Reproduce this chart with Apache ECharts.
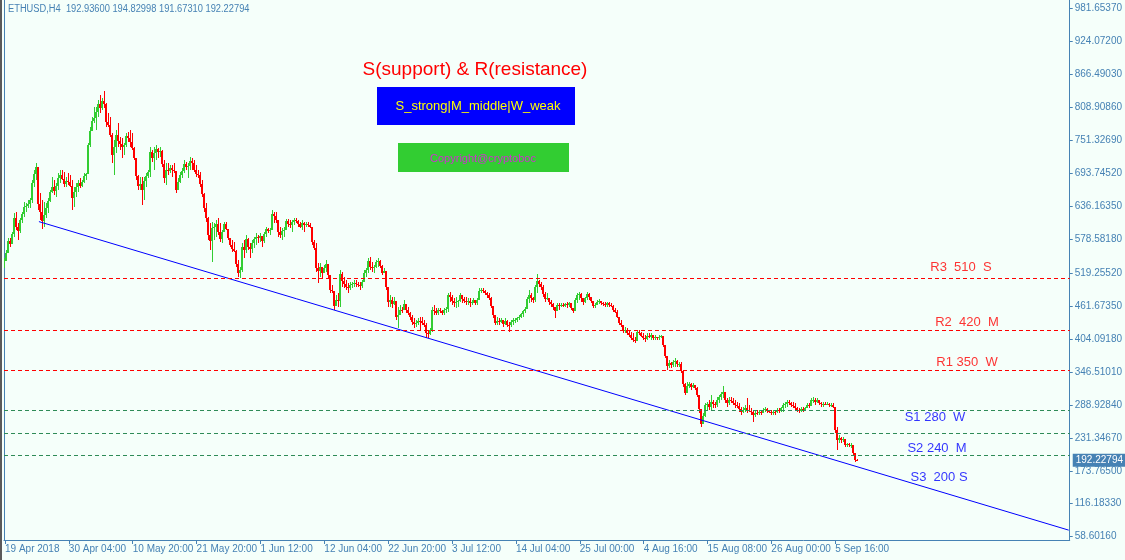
<!DOCTYPE html>
<html>
<head>
<meta charset="utf-8">
<title>ETHUSD H4</title>
<script src="https://cdn.jsdelivr.net/npm/echarts@6/dist/echarts.min.js"></script>
<style>
  html, body { margin: 0; padding: 0; background: #f5fffa; }
  #chart { width: 1125px; height: 560px; }
</style>
</head>
<body>
<div id="chart"></div>
<script>
// ETHUSD, H4 price history (one candle per category slot), support/resistance levels and trend line.
const FONT = '"Liberation Sans", Arial, sans-serif';

const tickLabels = ['19 Apr 2018', '30 Apr 04:00', '10 May 20:00', '21 May 20:00', '1 Jun 12:00',
  '12 Jun 04:00', '22 Jun 20:00', '3 Jul 12:00', '14 Jul 04:00', '25 Jul 00:00',
  '4 Aug 16:00', '15 Aug 08:00', '26 Aug 00:00', '5 Sep 16:00'];
const TICK_STEP = 32;
const SLOTS = 534;

const priceTicks = [981.6537, 924.072, 866.4903, 808.9086, 751.3269, 693.7452, 636.1635,
  578.5818, 519.2552, 461.6735, 404.0918, 346.5101, 288.9284, 231.3467, 173.765,
  116.1833, 58.6016];

const firstOpen = 530;
const closes = [
  540, 555, 575, 570, 588, 615, 600, 592, 612, 622,
  635, 637, 640, 646, 676, 692, 705, 640, 625, 610,
  620, 632, 645, 660, 670, 662, 672, 685, 690, 684,
  675, 680, 678, 672, 650, 660, 670, 676, 672, 678,
  688, 692, 742, 768, 785, 790, 800, 815, 808, 820,
  815, 783, 778, 760, 725, 740, 760, 750, 745, 740,
  742, 758, 755, 748, 738, 720, 688, 672, 675, 665,
  680, 688, 695, 730, 720, 728, 735, 730, 733, 710,
  685, 700, 697, 702, 700, 697, 665, 678, 690, 698,
  710, 704, 706, 715, 712, 700, 692, 690, 675, 658,
  632, 615, 585, 575, 598, 600, 605, 590, 578, 590,
  604, 596, 580, 568, 562, 558, 535, 520, 525, 565,
  560, 578, 565, 562, 572, 578, 582, 580, 584, 575,
  588, 596, 592, 594, 622, 618, 612, 590, 585, 592,
  595, 610, 605, 603, 608, 612, 610, 604, 600, 606,
  603, 605, 603, 600, 573, 563, 528, 522, 530, 520,
  528, 535, 515, 490, 488, 462, 472, 470, 518, 505,
  500, 495, 493, 498, 500, 502, 500, 498, 496, 503,
  520, 524, 540, 530, 528, 530, 538, 540, 532, 520,
  522, 495, 468, 472, 465, 470, 442, 445, 455, 454,
  465, 455, 450, 442, 433, 430, 432, 436, 435, 432,
  428, 415, 412, 420, 455, 452, 450, 454, 452, 449,
  455, 457, 480, 478, 470, 466, 468, 470, 480, 474,
  471, 468, 470, 466, 469, 472, 467, 472, 488, 490,
  488, 485, 480, 476, 462, 445, 432, 435, 433, 437,
  430, 436, 429, 428, 433, 437, 438, 440, 443, 447,
  452, 457, 474, 480, 475, 472, 494, 505, 500, 495,
  482, 474, 476, 468, 465, 460, 452, 463, 462, 464,
  462, 465, 463, 466, 458, 452, 472, 480, 482, 476,
  468, 475, 483, 478, 470, 462, 464, 469, 470, 466,
  465, 463, 466, 464, 462, 454, 451, 443, 432, 428,
  418, 420, 414, 411, 406, 402, 400, 416, 414, 410,
  406, 404, 410, 408, 411, 406, 408, 405, 408, 409,
  394, 375, 356, 362, 358, 364, 366, 360, 361, 348,
  325, 310, 322, 325, 320, 323, 318, 306, 282, 256,
  270, 288, 290, 285, 294, 290, 288, 298, 302, 308,
  312, 298, 292, 298, 296, 293, 288, 287, 281, 276,
  280, 283, 280, 278, 276, 272, 275, 274, 277, 275,
  280, 282, 278, 277, 275, 277, 276, 280, 279, 283,
  288, 290, 294, 292, 289, 287, 284, 280, 278, 282,
  280, 283, 289, 287, 297, 298, 294, 297, 292, 290,
  291, 290, 291, 288, 289, 286, 245, 228, 231, 228,
  230, 218, 220, 218, 219, 205, 192.936, 192.22794
];
const highs = [
  545, 559, 580, 580, 591, 624, 626, 607, 615, 626,
  643, 642, 647, 650, 682, 699, 711, 704, 659, 647,
  643, 642, 650, 664, 687, 682, 677, 694, 699, 699,
  696, 687, 694, 690, 682, 670, 677, 682, 685, 682,
  694, 694, 746, 774, 792, 809, 809, 821, 830, 825,
  837, 816, 799, 792, 764, 752, 769, 781, 757, 755,
  746, 764, 766, 769, 764, 739, 704, 690, 687, 687,
  687, 694, 699, 739, 734, 739, 743, 738, 739, 734,
  717, 711, 711, 708, 708, 711, 687, 685, 696, 703,
  717, 713, 711, 722, 720, 717, 708, 699, 696, 682,
  659, 642, 617, 607, 608, 607, 612, 615, 607, 594,
  608, 608, 594, 580, 577, 573, 559, 542, 530, 572,
  577, 586, 580, 572, 577, 582, 589, 586, 589, 582,
  591, 600, 598, 598, 629, 626, 626, 600, 600, 598,
  600, 614, 614, 612, 612, 615, 615, 612, 608, 612,
  608, 608, 608, 607, 600, 577, 572, 537, 537, 530,
  533, 542, 525, 502, 498, 481, 481, 484, 525, 521,
  512, 507, 502, 504, 504, 507, 507, 504, 504, 507,
  525, 528, 545, 547, 538, 533, 542, 545, 542, 533,
  528, 519, 484, 481, 477, 477, 455, 460, 463, 460,
  472, 463, 460, 451, 446, 441, 437, 441, 442, 442,
  437, 432, 420, 423, 460, 463, 458, 458, 458, 455,
  458, 460, 484, 486, 481, 476, 477, 472, 484, 481,
  477, 477, 476, 476, 472, 476, 472, 476, 493, 493,
  493, 490, 486, 484, 477, 458, 446, 442, 441, 441,
  437, 441, 437, 434, 437, 441, 441, 442, 446, 449,
  455, 460, 477, 490, 484, 477, 498, 518, 507, 504,
  498, 486, 484, 476, 472, 467, 460, 467, 467, 467,
  467, 467, 469, 469, 467, 458, 476, 484, 486, 484,
  476, 477, 486, 484, 477, 469, 467, 472, 474, 469,
  469, 469, 469, 469, 467, 463, 458, 455, 441, 437,
  428, 425, 423, 420, 416, 414, 407, 420, 420, 416,
  414, 411, 414, 414, 414, 411, 411, 407, 411, 411,
  407, 390, 373, 367, 364, 367, 371, 367, 364, 364,
  345, 327, 329, 329, 327, 327, 324, 320, 303, 275,
  275, 292, 294, 297, 306, 297, 294, 303, 306, 311,
  322, 310, 301, 303, 303, 301, 297, 294, 292, 285,
  285, 289, 301, 289, 283, 280, 280, 280, 280, 280,
  283, 285, 283, 280, 280, 280, 280, 283, 283, 285,
  292, 294, 297, 297, 294, 294, 292, 285, 283, 285,
  285, 285, 292, 292, 301, 303, 301, 301, 297, 294,
  294, 294, 294, 292, 292, 292, 285, 250, 236, 233,
  233, 224, 222, 222, 222, 214, 205, 194.82998
];
const lows = [
  528, 542, 554, 565, 572, 582, 594, 577, 589, 607,
  617, 626, 633, 633, 642, 670, 682, 629, 612, 596,
  600, 615, 624, 643, 659, 656, 652, 664, 677, 682,
  670, 670, 673, 670, 629, 635, 652, 661, 668, 670,
  677, 682, 704, 739, 769, 781, 769, 792, 799, 804,
  807, 774, 774, 757, 711, 690, 729, 739, 734, 720,
  725, 739, 748, 739, 734, 717, 682, 664, 664, 638,
  647, 670, 685, 687, 713, 699, 717, 720, 722, 704,
  677, 673, 690, 694, 687, 694, 659, 664, 677, 685,
  694, 699, 685, 699, 699, 696, 687, 685, 670, 652,
  626, 608, 577, 559, 538, 577, 582, 586, 573, 572,
  591, 594, 577, 565, 556, 556, 530, 512, 511, 521,
  545, 554, 559, 545, 554, 563, 568, 572, 573, 565,
  572, 582, 589, 586, 594, 607, 607, 582, 580, 577,
  582, 600, 600, 598, 591, 603, 607, 600, 598, 594,
  591, 600, 600, 598, 568, 559, 521, 502, 512, 511,
  519, 521, 511, 484, 484, 455, 467, 460, 460, 495,
  493, 490, 484, 490, 493, 495, 495, 495, 490, 493,
  507, 512, 519, 525, 521, 519, 528, 530, 528, 516,
  519, 490, 460, 460, 458, 463, 437, 423, 446, 449,
  455, 449, 446, 437, 428, 423, 425, 428, 420, 428,
  425, 406, 406, 411, 416, 446, 446, 446, 449, 446,
  446, 449, 451, 469, 463, 460, 458, 460, 469, 467,
  467, 463, 463, 460, 463, 467, 463, 463, 477, 484,
  484, 481, 476, 472, 458, 441, 428, 428, 428, 432,
  425, 428, 425, 416, 425, 428, 432, 434, 437, 441,
  442, 449, 458, 467, 469, 467, 469, 484, 495, 490,
  477, 469, 472, 463, 460, 455, 441, 455, 455, 460,
  460, 460, 458, 460, 455, 449, 455, 467, 472, 469,
  463, 467, 472, 472, 467, 458, 458, 463, 465, 463,
  462, 460, 460, 460, 460, 451, 449, 441, 428, 425,
  414, 414, 411, 407, 402, 399, 397, 407, 411, 407,
  402, 399, 402, 406, 402, 402, 402, 402, 402, 406,
  390, 371, 350, 353, 353, 355, 355, 355, 355, 345,
  320, 306, 311, 318, 315, 318, 315, 303, 275, 250,
  257, 268, 280, 280, 280, 283, 283, 285, 292, 297,
  301, 292, 285, 289, 292, 289, 283, 283, 276, 271,
  275, 276, 275, 276, 271, 259, 268, 271, 271, 271,
  275, 276, 275, 275, 271, 271, 271, 275, 275, 276,
  276, 283, 285, 289, 285, 283, 280, 276, 275, 276,
  276, 280, 283, 283, 289, 292, 289, 292, 289, 285,
  285, 289, 289, 285, 285, 283, 240, 210, 222, 222,
  224, 215, 215, 215, 214, 201, 189, 191.6731
];

// Support / resistance levels with their captions
const levelValues = [510, 420, 350, 280, 240, 200];
const levelTexts = ['R3  510  S', 'R2  420  M', 'R1 350  W', 'S1 280  W', 'S2 240  M', 'S3  200 S'];
const levelKinds = ['R', 'R', 'R', 'S', 'S', 'S'];

// Trend line anchors: [slot index, price]
const trendLine = [[17, 609], [533, 70]];

const categories = Array.from({ length: SLOTS }, (_, i) => String(i));
// rows: [slot, open, close, low, high]
const candles = closes.map((c, i) => {
  const o = i === 0 ? firstOpen : closes[i - 1];
  return [i, o, c, Math.min(lows[i], o, c), Math.max(highs[i], o, c)];
});
const lastClose = closes[closes.length - 1];

const isTick = (index) => index % TICK_STEP === 0 && index / TICK_STEP < tickLabels.length;

const RED = '#ff0000';
const BULL = '#32cd32';
const BLUE_TXT = '#0000ff';
const AXIS = '#4682b4';
const Y_MIN = 52.8, Y_MAX = 996.15;

// caption placement beside each level line
const captionSlot = [479, 482, 482, 466, 467, 468];
const captionGap = [4, 0, 0, 0, 9, 15];

// pixel-crisp candle: 1px wick, 2px body
function renderCandle(params, api) {
  const slot = api.value(0);
  const o = api.value(1), c = api.value(2), l = api.value(3), h = api.value(4);
  const pH = api.coord([slot, h]);
  const pL = api.coord([slot, l]);
  const pO = api.coord([slot, o]);
  const pC = api.coord([slot, c]);
  const x = Math.floor(pH[0]);
  const color = c >= o ? BULL : RED;
  const yTop = Math.round(pH[1]);
  const yBot = Math.round(pL[1]);
  const bTop = Math.round(Math.min(pO[1], pC[1]));
  const bBot = Math.round(Math.max(pO[1], pC[1]));
  return {
    type: 'group',
    children: [
      { type: 'rect', shape: { x: x, y: yTop, width: 1, height: Math.max(1, yBot - yTop) }, style: { fill: color } },
      { type: 'rect', shape: { x: x - 1, y: bTop, width: 2, height: Math.max(1, bBot - bTop) }, style: { fill: color } }
    ]
  };
}

const chart = echarts.init(document.getElementById('chart'), null, { renderer: 'canvas' });
chart.setOption({
  backgroundColor: '#f5fffa',
  animation: false,
  grid: { left: 4, right: 52, top: 0, bottom: 20 },
  xAxis: {
    type: 'category',
    data: categories,
    boundaryGap: true,
    axisLine: { show: true, lineStyle: { color: AXIS, width: 1 } },
    axisTick: { show: true, alignWithLabel: true, length: 4, interval: isTick, lineStyle: { color: AXIS } },
    axisLabel: {
      interval: isTick,
      formatter: (v, i) => tickLabels[i / TICK_STEP] || '',
      align: 'left', margin: 4, color: AXIS, fontFamily: FONT, fontSize: 10
    },
    splitLine: { show: false }
  },
  yAxis: [{
    type: 'value', position: 'right', min: Y_MIN, max: Y_MAX,
    axisLine: { show: true, lineStyle: { color: AXIS } },
    axisTick: { show: true, customValues: priceTicks, length: 3, lineStyle: { color: AXIS } },
    axisLabel: { customValues: priceTicks, formatter: (v) => v.toFixed(5), margin: 5, color: AXIS, fontFamily: FONT, fontSize: 10 },
    splitLine: { show: false }
  }, {
    type: 'value', position: 'left', min: Y_MIN, max: Y_MAX,
    axisLine: { show: true, lineStyle: { color: AXIS } },
    axisTick: { show: false }, axisLabel: { show: false }, splitLine: { show: false }
  }],
  series: [{
    name: 'ETHUSD,H4',
    type: 'custom',
    data: candles,
    encode: { x: 0, y: [1, 2, 3, 4] },
    renderItem: renderCandle,
    clip: true,
    z: 2,
    markLine: {
      silent: true,
      symbol: ['none', 'none'],
      label: { show: false },
      data: levelValues.map((v, i) => ({
        yAxis: v,
        lineStyle: { color: levelKinds[i] === 'R' ? RED : '#2e8b57', type: [4, 3], width: 1 }
      }))
    }
  }, {
    name: 'trend',
    type: 'line',
    data: trendLine,
    symbol: 'none',
    lineStyle: { color: '#0000ff', width: 1 },
    z: 3
  }, {
    name: 'levels',
    type: 'scatter',
    symbolSize: 1,
    itemStyle: { color: 'rgba(0,0,0,0)' },
    z: 5,
    data: levelValues.map((v, i) => ({
      value: [captionSlot[i], v],
      label: {
        show: true,
        formatter: levelTexts[i],
        position: levelKinds[i] === 'R' ? 'top' : 'bottom',
        distance: captionGap[i],
        color: levelKinds[i] === 'R' ? RED : BLUE_TXT,
        fontFamily: FONT, fontSize: 13
      }
    }))
  }, {
    // current price tag on the price scale
    name: 'last',
    type: 'line',
    data: [],
    markLine: {
      silent: true,
      symbol: ['none', 'none'],
      lineStyle: { color: 'rgba(0,0,0,0)', width: 1 },
      label: {
        show: true, position: 'end', distance: 3,
        formatter: lastClose.toFixed(5),
        backgroundColor: AXIS, color: '#ffffff', padding: [2, 3, 1, 3],
        fontFamily: FONT, fontSize: 10
      },
      data: [{ yAxis: lastClose }]
    },
    z: 6
  }],
  graphic: [
    { type: 'rect', shape: { x: 0, y: 0, width: 2, height: 560 }, style: { fill: '#5a5a5a' }, silent: true },
    { type: 'text', x: 8, y: 9, scaleX: 0.93, style: { text: 'ETHUSD,H4  192.93600 194.82998 191.67310 192.22794', fill: AXIS, font: '10px ' + FONT, textVerticalAlign: 'middle' } },
    { type: 'text', x: 475, y: 70, style: { text: 'S(support) & R(resistance)', fill: RED, font: '19px ' + FONT, textAlign: 'center', textVerticalAlign: 'middle' } },
    { type: 'rect', shape: { x: 377, y: 87, width: 198, height: 38 }, style: { fill: '#0000ff' } },
    { type: 'text', x: 478, y: 106, style: { text: 'S_strong|M_middle|W_weak', fill: '#ffff00', font: '13px ' + FONT, textAlign: 'center', textVerticalAlign: 'middle' } },
    { type: 'rect', shape: { x: 398, y: 143, width: 171, height: 29 }, style: { fill: '#32cd32' } },
    { type: 'text', x: 483, y: 159, style: { text: 'Copyright@cryptoboc', fill: '#d030d0', font: '11px ' + FONT, textAlign: 'center', textVerticalAlign: 'middle' } }
  ]
});
</script>
</body>
</html>
